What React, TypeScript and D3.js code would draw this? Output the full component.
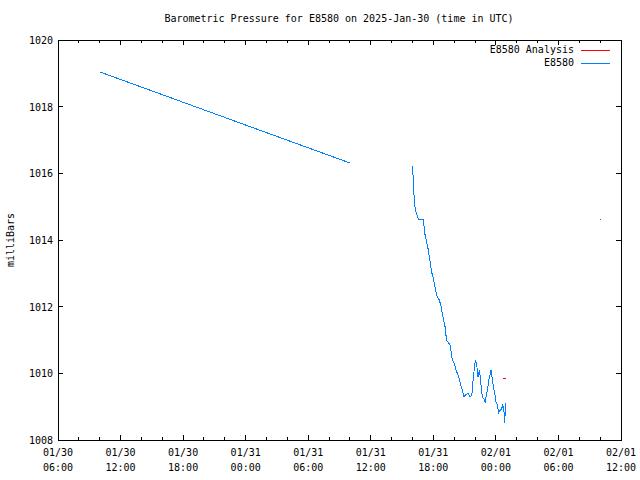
import React from "react";
import * as d3 from "d3";

const TITLE = "Barometric Pressure for E8580 on 2025-Jan-30 (time in UTC)";
const Y_LABEL = "milliBars";
const BASE = Date.UTC(2025, 0, 30, 6, 0);
const X_DOMAIN_HOURS = [0, 54];
const Y_DOMAIN = [1008, 1020];
const Y_TICKS = [1008, 1010, 1012, 1014, 1016, 1018, 1020];
const LEGEND = ["E8580 Analysis", "E8580"];

// observation segments: hours after 2025-01-30 06:00 UTC, pressure in mb
const obsSegA_h = [4.03, 28.0];
const obsSegA_p = [1019.04, 1016.31];

const obsSegB_h = [
  33.98, 34.05, 34.1, 34.17, 34.27, 34.37, 34.46, 34.56, 35.04, 35.13, 35.23, 35.33, 35.42, 35.52,
  35.61, 35.71, 35.81, 35.9, 36.0, 36.09, 36.19, 36.28, 36.38, 36.57, 36.71, 36.8, 36.9, 37.02,
  37.15, 37.21, 37.28, 37.44, 37.6, 37.7, 37.79, 37.92, 38.05, 38.17, 38.3, 38.43, 38.56, 38.68,
  38.82, 38.94, 39.07, 39.2, 39.33, 39.45, 39.58, 39.71, 39.83, 39.97, 40.03, 40.16, 40.22, 40.28,
  40.35, 40.41, 40.48, 40.54, 40.6, 40.74, 40.86, 40.99, 41.05, 41.12, 41.24, 41.31, 41.44, 41.53,
  41.63, 41.7, 41.75, 41.82, 41.94, 42.01, 42.14, 42.27, 42.39, 42.52, 42.59, 42.65, 42.71, 42.78,
  42.84, 42.87, 42.9, 42.94,
];
const obsSegB_p = [
  1016.23, 1015.95, 1015.62, 1015.2, 1014.93, 1014.81, 1014.72, 1014.63, 1014.63, 1014.33, 1014.1,
  1014.0, 1013.85, 1013.7, 1013.5, 1013.31, 1013.1, 1012.95, 1012.86, 1012.71, 1012.56, 1012.41,
  1012.3, 1012.2, 1012.05, 1011.9, 1011.75, 1011.55, 1011.36, 1011.15, 1010.97, 1010.93, 1010.85,
  1010.65, 1010.45, 1010.35, 1010.25, 1010.1, 1010.0, 1009.9, 1009.75, 1009.6, 1009.45, 1009.3,
  1009.35, 1009.37, 1009.4, 1009.32, 1009.3, 1009.4, 1009.85, 1010.25, 1010.4, 1010.25, 1010.1,
  1009.9, 1009.95, 1010.1, 1009.95, 1009.82, 1009.5, 1009.28, 1009.22, 1009.1, 1009.28, 1009.4,
  1009.6, 1009.8, 1009.95, 1010.1, 1009.9, 1009.75, 1009.6, 1009.5, 1009.32, 1009.15, 1009.05,
  1008.82, 1008.88, 1008.92, 1008.98, 1009.05, 1008.98, 1008.85, 1008.5, 1008.8, 1009.1, 1008.72,
];
const obsSegC_h = [52.0];
const obsSegC_p = [1014.63];

const analysis_h = [42.65, 42.95];
const analysis_p = [1009.85, 1009.85];

const W = 640;
const H = 480;
const M = { left: 58, right: 621, top: 40, bottom: 440 };
const FONT = "'DejaVu Sans Mono', 'Liberation Mono', monospace";
const BLUE = "#0080ff";
const RED = "#ff0000";

const toDate = (h: number) => new Date(BASE + h * 3600 * 1000);

export default function App() {
  const x = d3
    .scaleUtc()
    .domain(X_DOMAIN_HOURS.map(toDate))
    .range([M.left, M.right]);
  const y = d3.scaleLinear().domain(Y_DOMAIN).range([M.bottom, M.top]);

  const line = d3
    .line<[number, number]>()
    .x((d) => x(toDate(d[0])))
    .y((d) => y(d[1]));

  const zip = (h: number[], p: number[]) => h.map((v, i) => [v, p[i]] as [number, number]);

  const majorTicks = d3.range(0, 55, 6).map(toDate);
  const minorTicks = d3.range(0, 55, 2).filter((h) => h % 6 !== 0).map(toDate);
  const fmtDay = d3.utcFormat("%m/%d");
  const fmtTime = d3.utcFormat("%H:%M");

  const MAJ = 5;
  const MIN = 3;

  return (
    <svg width={W} height={H} style={{ display: "block", position: "absolute", left: 0, top: 0, background: "#fff" }}>
      <rect x={0} y={0} width={W} height={H} fill="#fff" />
      <text x={339} y={22} textAnchor="middle" fontFamily={FONT} fontSize={10}>
        {TITLE}
      </text>
      <g shapeRendering="crispEdges" stroke="#000" strokeWidth={1}>
        {Y_TICKS.map((t) => (
          <g key={t}>
            <line x1={M.left} x2={M.left + MAJ} y1={y(t)} y2={y(t)} />
            <line x1={M.right} x2={M.right - MAJ} y1={y(t)} y2={y(t)} />
          </g>
        ))}
        {majorTicks.map((t, i) => (
          <g key={i}>
            <line x1={x(t)} x2={x(t)} y1={M.bottom} y2={M.bottom - MAJ} />
            <line x1={x(t)} x2={x(t)} y1={M.top} y2={M.top + MAJ} />
          </g>
        ))}
        {minorTicks.map((t, i) => (
          <g key={"m" + i}>
            <line x1={x(t)} x2={x(t)} y1={M.bottom} y2={M.bottom - MIN} />
            <line x1={x(t)} x2={x(t)} y1={M.top} y2={M.top + MIN} />
          </g>
        ))}
        <rect x={M.left} y={M.top} width={M.right - M.left} height={M.bottom - M.top} fill="none" />
      </g>
      <g fontFamily={FONT} fontSize={10} fill="#000">
        {Y_TICKS.map((t) => (
          <text key={t} x={M.left - 5} y={y(t) + 4} textAnchor="end">
            {t}
          </text>
        ))}
        {majorTicks.map((t, i) => (
          <g key={i}>
            <text x={x(t)} y={M.bottom + 16} textAnchor="middle">
              {fmtDay(t)}
            </text>
            <text x={x(t)} y={M.bottom + 31} textAnchor="middle">
              {fmtTime(t)}
            </text>
          </g>
        ))}
        <text transform={`translate(14, ${(M.top + M.bottom) / 2}) rotate(-90)`} textAnchor="middle">
          {Y_LABEL}
        </text>
      </g>
      <g fill="none" strokeWidth={1} shapeRendering="crispEdges">
        <path d={line(zip(obsSegA_h, obsSegA_p)) || ""} stroke={BLUE} />
        <path d={line(zip(obsSegB_h, obsSegB_p)) || ""} stroke={BLUE} />
        <path d={line(zip(analysis_h, analysis_p)) || ""} stroke={RED} />
        {zip(obsSegC_h, obsSegC_p).map((d, i) => (
          <rect key={i} x={x(toDate(d[0])) - 0.5} y={y(d[1]) - 0.5} width={1.5} height={1.5} fill={BLUE} stroke="none" />
        ))}
      </g>
      <g fontFamily={FONT} fontSize={10}>
        {LEGEND.map((name, i) => (
          <g key={name}>
            <text x={574} y={53 + i * 13} textAnchor="end">
              {name}
            </text>
            <line
              x1={581}
              x2={610}
              y1={50 + i * 13}
              y2={50 + i * 13}
              stroke={i === 0 ? RED : BLUE}
              shapeRendering="crispEdges"
            />
          </g>
        ))}
      </g>
    </svg>
  );
}
